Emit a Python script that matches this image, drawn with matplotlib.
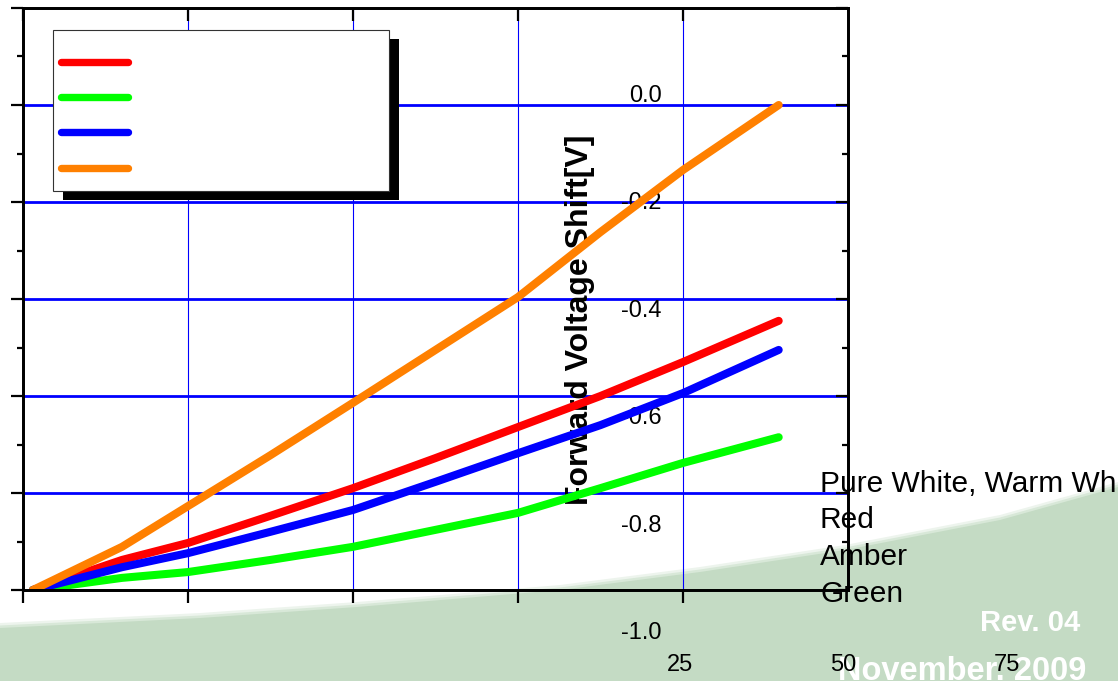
import numpy as np
import matplotlib.pyplot as plt
from matplotlib.patches import Rectangle, Polygon
from matplotlib.lines import Line2D
from matplotlib.ticker import MultipleLocator

plt.rcParams['font.family'] = ['Liberation Sans', 'DejaVu Sans']

W, H = 1118, 681

# curves (x in axis units 0..125, y in -1.0..0.2)
temp = [1.5, 15, 25, 37.5, 50, 62.5, 75, 87.5, 100, 114.5]
red = [-1.0, -0.938, -0.903, -0.847, -0.790, -0.728, -0.664, -0.600, -0.530, -0.445]
green = [-1.0, -0.975, -0.963, -0.938, -0.911, -0.876, -0.841, -0.790, -0.738, -0.685]
blue = [-1.0, -0.953, -0.924, -0.880, -0.835, -0.777, -0.718, -0.660, -0.594, -0.505]
amber = [-1.0, -0.911, -0.827, -0.722, -0.614, -0.505, -0.396, -0.262, -0.134, 0.0]

series = [red, green, blue, amber]
colors = ['#ff0000', '#00ff00', '#0000ff', '#ff8000']
legend_labels = ['Pure White, Warm White', 'Red', 'Amber', 'Green']

y_tick_labels = ['0.0', '-0.2', '-0.4', '-0.6', '-0.8', '-1.0']
x_tick_labels = ['25', '50', '75']
y_label = 'Forward Voltage Shift[V]'
rev_text = 'Rev. 04'
date_text = 'November. 2009'


def fx(px):
    return px / W


def fy(py):
    return 1 - py / H


def ax_x(px):
    return (px - 23) / 825


def ax_y(py):
    return (590 - py) / 582


fig = plt.figure(figsize=(W / 100, H / 100), dpi=100)

# green page decoration behind everything
edge = [(0, 628), (200, 618), (357, 607), (560, 590), (700, 572),
        (845, 550), (1000, 520), (1118, 487)]
for shift, col in [(5, '#edf4ed'), (2.5, '#d8e8d8'), (0, '#c4dbc4')]:
    pts = [(fx(x), fy(y - shift)) for x, y in edge] + [(1, 0), (0, 0)]
    fig.add_artist(Polygon(pts, closed=True, transform=fig.transFigure,
                           facecolor=col, edgecolor='none', zorder=-2))

fig.text(fx(1030), fy(623), rev_text, color='white', fontsize=21, fontweight='bold',
         ha='center', va='center', zorder=-1)
fig.text(fx(962), fy(672), date_text, color='white', fontsize=23.5, fontweight='bold',
         ha='center', va='center', zorder=-1)

ax = fig.add_axes([fx(23), fy(590), 825 / W, 582 / H])
ax.patch.set_visible(False)
ax.set_xlim(0, 125)
ax.set_ylim(-1.0, 0.2)

for y in [-0.8, -0.6, -0.4, -0.2, 0.0]:
    ax.axhline(y, color='#0000ff', lw=2.0, zorder=1)
for x in [25, 50, 75, 100]:
    ax.axvline(x, color='#0000ff', lw=0.8, zorder=1)

for vals, col in zip(series, colors):
    ax.plot(temp, vals, color=col, lw=5.8, solid_capstyle='round', zorder=4)

ax.set_xticks([0, 25, 50, 75, 100])
ax.set_yticks(np.arange(-1.0, 0.21, 0.2))
ax.yaxis.set_minor_locator(MultipleLocator(0.1))
ax.tick_params(which='both', direction='out', width=1.6, labelleft=False, labelbottom=False)
ax.tick_params(which='major', length=9)
ax.tick_params(which='minor', length=4.5)
for s in ax.spines.values():
    s.set_linewidth(1.8)
    s.set_zorder(5)

axr = ax.twinx()
axr.set_ylim(ax.get_ylim())
axr.set_yticks(np.arange(-1.0, 0.21, 0.2))
axr.yaxis.set_minor_locator(MultipleLocator(0.1))
axr.tick_params(which='both', direction='in', width=1.6, labelright=False)
axr.tick_params(which='major', length=9)
axr.tick_params(which='minor', length=4.5)
axt = ax.twiny()
axt.set_xlim(ax.get_xlim())
axt.set_xticks([0, 25, 50, 75, 100])
axt.tick_params(direction='in', width=1.6, length=9, labeltop=False)
for a in (axr, axt):
    for s in a.spines.values():
        s.set_linewidth(1.8)

# legend box with hard shadow and empty labels
ax.add_patch(Rectangle((ax_x(63), ax_y(200)), ax_x(399) - ax_x(63), ax_y(39) - ax_y(200),
                       transform=ax.transAxes, facecolor='black', edgecolor='none', zorder=6))
ax.add_patch(Rectangle((ax_x(53), ax_y(191)), ax_x(389) - ax_x(53), ax_y(30) - ax_y(191),
                       transform=ax.transAxes, facecolor='white', edgecolor='#333333',
                       lw=0.8, zorder=7))
for i, col in enumerate(colors):
    yy = ax_y(62 + i * 35.2)
    ax.add_line(Line2D([ax_x(61), ax_x(128)], [yy, yy], transform=ax.transAxes,
                       color=col, lw=5.3, solid_capstyle='round', zorder=8))

# labels that ended up displaced in the source picture
for i, lab in enumerate(y_tick_labels):
    ax.text(fx(662), fy(96 + i * 107.4), lab, transform=fig.transFigure,
            ha='right', va='center', fontsize=17, zorder=2)
for i, lab in enumerate(x_tick_labels):
    ax.text(fx(680 + i * 163.5), fy(665), lab, transform=fig.transFigure,
            ha='center', va='center', fontsize=17, zorder=2)
ax.text(fx(580), fy(320), y_label, transform=fig.transFigure, rotation=90,
        ha='center', va='center', fontsize=23, fontweight='bold', zorder=2)
for i, lab in enumerate(legend_labels):
    ax.text(fx(820), fy(484 + i * 36.5), lab, transform=fig.transFigure,
            ha='left', va='center', fontsize=21.5, zorder=2)

fig.savefig('out.png', dpi=100)
